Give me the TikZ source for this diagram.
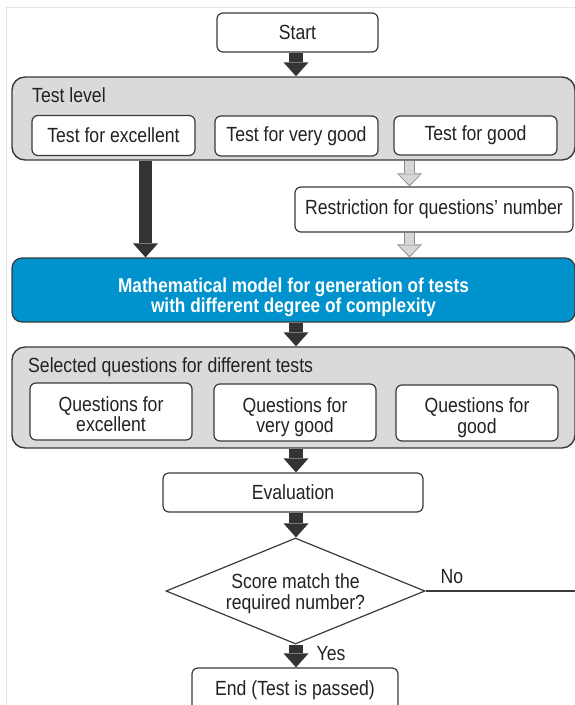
\documentclass[tikz,border=0pt]{standalone}
\usepackage{fontspec}
\setmainfont{Liberation Sans}[FakeStretch=0.86]
\usetikzlibrary{shapes.geometric,arrows.meta}

\definecolor{boxline}{HTML}{3A3A3A}
\definecolor{panelgray}{HTML}{D9DAD9}
\definecolor{modelblue}{HTML}{0092CC}
\definecolor{fatgray}{HTML}{333333}
\definecolor{hollowline}{HTML}{8C8C8C}
\definecolor{hollowfill}{HTML}{D6D6D6}
\definecolor{inktext}{HTML}{222222}

\tikzset{
  box/.style={draw=boxline, line width=1.2pt, fill=white, rounded corners=6pt,
    align=center, inner sep=0pt, text=inktext},
  lowtext/.style={text height=#1, text depth=0pt},
  panel/.style={draw=boxline, line width=1.4pt, fill=panelgray, rounded corners=13pt, inner sep=0pt},
  panellabel/.style={anchor=west, inner sep=0pt, text=inktext},
  fat/.style={line width=13.5pt, fatgray, -{Triangle[length=14pt,width=25pt,line width=0pt]}},
  hollowout/.style={line width=11pt, hollowline, -{Triangle[length=13pt,width=25pt,line width=0pt]}},
  hollowin/.style={line width=9pt, hollowfill, shorten >=1.5pt, shorten <=0.7pt,
    -{Triangle[length=10.5pt,width=21pt,line width=0pt]}},
}

\begin{document}
\begin{tikzpicture}[x=1pt, y=-1pt, font=\fontsize{20.5pt}{20.5pt}\selectfont]
    \useasboundingbox (0,0) rectangle (575,705);
    \clip (0,0) rectangle (575,705);

    % Page frame
    \draw[black!10, line width=0.8pt] (6.5,705) -- (6.5,7.5) -- (575,7.5);

    % Start
    \node[box, minimum width=161pt, minimum height=39pt] (start) at (297.5,32.5) {Start};
    \coordinate (spine) at (296,0);
    \coordinate (exdown) at (145.5,0);
    \coordinate (gdown) at (409.5,0);

    % Test level panel
    \node[panel, minimum width=563pt, minimum height=83pt] (testlevel) at (293.5,118.5) {};
    \node[panellabel] (testlevellabel) at (32,95.5) {Test level};
    \node[box, minimum width=163pt, minimum height=40pt] (tex) at (113.5,135.5) {Test for excellent};
    \node[box, minimum width=163pt, minimum height=40pt] (tvg) at (296.5,136) {Test for very good};
    \node[box, minimum width=163pt, minimum height=39pt] (tg) at (475.5,135.5) {Test for good};

    % Restriction
    \node[box, minimum width=278pt, minimum height=45pt] (restr) at (434,209.5) {Restriction for questions’ number};

    % Model
    \node[box, lowtext=44pt, fill=modelblue, text=white, rounded corners=10pt, minimum width=563pt, minimum height=64pt,
      font=\fontsize{20pt}{20pt}\selectfont\bfseries] (model) at (293.5,290)
      {Mathematical model for generation of tests\\with different degree of complexity};

    % Selected questions panel
    \node[panel, minimum width=563pt, minimum height=101pt] (selected) at (293.5,397.5) {};
    \node[panellabel] (selectedlabel) at (28,367) {Selected questions for different tests};
    \node[box, lowtext=40pt, minimum width=162pt, minimum height=57pt] (qex) at (111,411.5) {Questions for\\excellent};
    \node[box, lowtext=40pt, minimum width=162pt, minimum height=57pt] (qvg) at (295,412.5) {Questions for\\very good};
    \node[box, lowtext=40pt, minimum width=162pt, minimum height=56pt] (qg) at (477,413) {Questions for\\good};

    % Evaluation, decision, end
    \node[box, minimum width=260pt, minimum height=39pt] (eval) at (293,492.5) {Evaluation};
    \node[diamond, lowtext=36pt, shape aspect=2.45, draw=boxline, line width=1.2pt, fill=white,
      minimum width=259pt, minimum height=106pt, inner sep=0pt, align=center, text=inktext]
      (check) at (295.5,591) {Score match the\\required number?};
    \node[box, minimum width=206pt, minimum height=44pt] (finish) at (295,690) {End (Test is passed)};
    \coordinate (noend) at (576,591);

    % Arrows
    \draw[fat] (start.south -| spine) -- (testlevel.north -| spine);
    \draw[fat] (testlevel.south -| exdown) -- (model.north -| exdown);
    \draw[hollowout] (testlevel.south -| gdown) -- (restr.north -| gdown);
    \draw[hollowin] (testlevel.south -| gdown) -- (restr.north -| gdown);
    \draw[hollowout] (restr.south -| gdown) -- (model.north -| gdown);
    \draw[hollowin] (restr.south -| gdown) -- (model.north -| gdown);
    \draw[fat] (model.south -| spine) -- (selected.north -| spine);
    \draw[fat] (selected.south -| spine) -- (eval.north -| spine);
    \draw[fat] (eval.south -| spine) -- (check.north -| spine);
    \draw[fat] (check.south -| spine) -- (finish.north -| spine);
    \draw[boxline, line width=1.2pt] (check.east) -- (noend);

    % Branch labels
    \node[text=inktext] (nolabel) at (452,577) {No};
    \node[text=inktext] (yeslabel) at (331,654) {Yes};
\end{tikzpicture}
\end{document}
